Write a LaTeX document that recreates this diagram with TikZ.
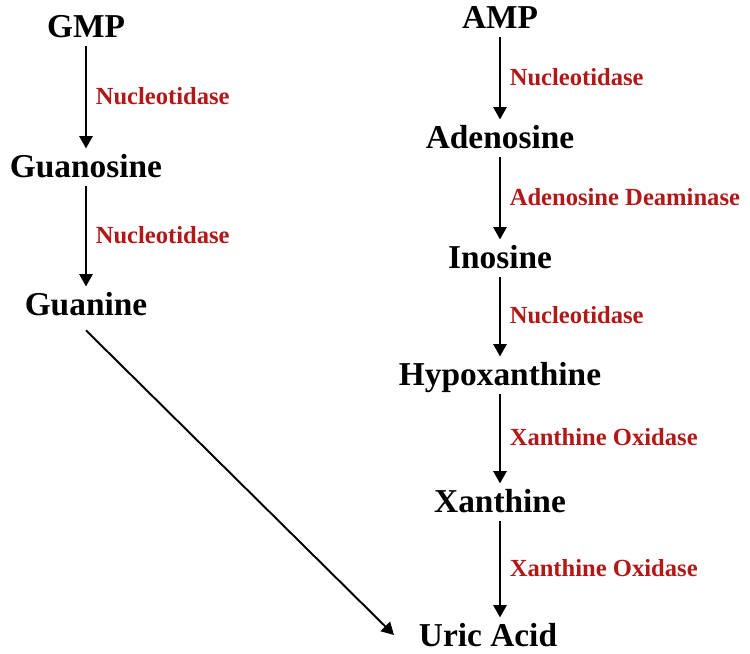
\documentclass[tikz,border=0pt]{standalone}
\usepackage{fontspec}
\setmainfont{Liberation Serif}
\usepackage{tikz}
\usetikzlibrary{arrows.meta, calc, positioning}

\definecolor{enzymered}{RGB}{178,24,24}

\tikzset{
    metab/.style={inner sep=0pt, text height=12.6pt, text depth=0pt,
        font=\fontsize{19}{22}\selectfont\bfseries},
    enzyme/.style={inner sep=0pt, text=enzymered, right=5pt,
        font=\fontsize{14}{16}\selectfont\bfseries},
    reaction/.style={-{Triangle[length=7pt, width=7.5pt]}, line width=1.1pt,
        shorten <=5pt, shorten >=3.5pt}
}

\begin{document}
\begin{tikzpicture}[x=0.02cm, y=-0.02cm]
    \useasboundingbox (0,0) rectangle (750,653);

    % Guanine branch
    \node[metab] (gmp) at (86, 26) {GMP};
    \node[metab] (guanosine) at (86, 166) {Guanosine};
    \node[metab] (guanine) at (86, 304) {Guanine};

    % Adenine branch
    \node[metab] (amp) at (500, 17) {AMP};
    \node[metab] (adenosine) at (500, 137) {Adenosine};
    \node[metab] (inosine) at (500, 257) {Inosine};
    \node[metab] (hypox) at (500, 374) {Hypoxanthine};
    \node[metab] (xanthine) at (500, 501) {Xanthine};
    \node[metab] (uric) at (488, 635) {Uric Acid};

    % Reactions on the left
    \draw[reaction] (gmp) -- (guanosine) node[midway, enzyme] {Nucleotidase};
    \draw[reaction] (guanosine) -- (guanine) node[midway, enzyme] {Nucleotidase};

    % Reactions on the right
    \draw[reaction] (amp) -- (adenosine) node[midway, enzyme] {Nucleotidase};
    \draw[reaction] (adenosine) -- (inosine) node[midway, enzyme] {Adenosine Deaminase};
    \draw[reaction] (inosine) -- (hypox) node[midway, enzyme] {Nucleotidase};
    \draw[reaction] (hypox) -- (xanthine) node[midway, enzyme] {Xanthine Oxidase};
    \draw[reaction] (xanthine.south) -- (xanthine.south |- uric.north)
        node[midway, enzyme] {Xanthine Oxidase};

    % Guanine goes straight to uric acid
    \draw[reaction, shorten <=0pt, shorten >=0pt]
        ([yshift=-8.5pt]guanine.south) -- ([xshift=-14pt]uric.west);

\end{tikzpicture}
\end{document}
